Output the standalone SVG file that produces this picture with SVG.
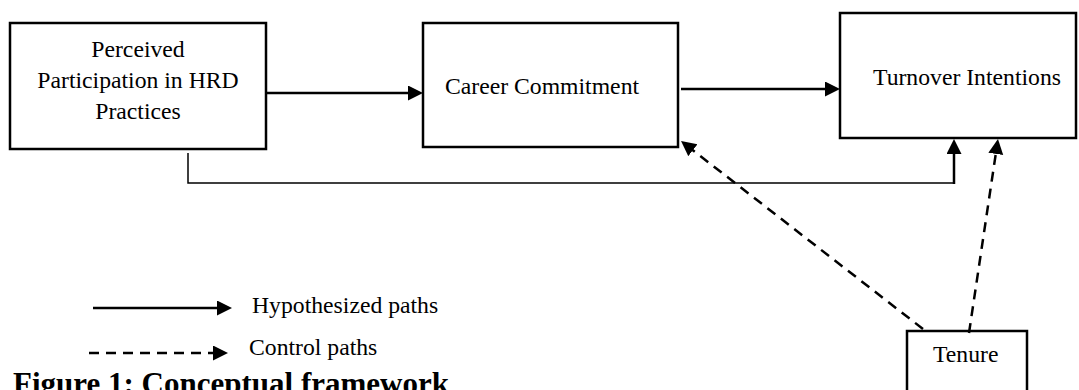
<svg xmlns="http://www.w3.org/2000/svg" width="1079" height="390" viewBox="0 0 1079 390">
<style>
  .box { fill: #fff; stroke: #000; stroke-width: 2.5; }
  .lbl { font-family: "Liberation Serif", "Times New Roman", serif; font-size: 23.7px; fill: #000; }
  .solid { fill: none; stroke: #000; stroke-width: 2.5; }
  .thin { fill: none; stroke: #000; stroke-width: 1.5; }
  .dash { fill: none; stroke: #000; stroke-width: 2.5; stroke-dasharray: 10 7; }
  .caption { font-family: "Liberation Serif", "Times New Roman", serif; font-size: 31px; font-weight: bold; fill: #000; }
</style>
<defs>
  <marker id="ah" markerUnits="userSpaceOnUse" markerWidth="16" markerHeight="16" refX="11" refY="7.5" orient="auto">
    <path d="M0,0 L15,7.5 L0,15 Z" fill="#000"/>
  </marker>
</defs>
<rect width="1079" height="390" fill="#fff"/>

<g id="node-hrd">
  <rect class="box" x="10" y="23" width="256" height="126"/>
  <text class="lbl" x="138" y="57" text-anchor="middle">Perceived</text>
  <text class="lbl" x="138" y="88" text-anchor="middle">Participation in HRD</text>
  <text class="lbl" x="138" y="119" text-anchor="middle">Practices</text>
</g>
<g id="node-career">
  <rect class="box" x="423" y="23" width="255" height="124"/>
  <text class="lbl" x="445" y="94">Career Commitment</text>
</g>
<g id="node-turnover">
  <rect class="box" x="840" y="13" width="236" height="125"/>
  <text class="lbl" x="873" y="85">Turnover Intentions</text>
</g>
<g id="node-tenure">
  <rect class="box" x="907" y="331" width="120" height="75"/>
  <text class="lbl" x="933" y="362">Tenure</text>
</g>

<g id="connectors">
  <line class="solid" x1="266" y1="93" x2="419" y2="93" marker-end="url(#ah)"/>
  <line class="solid" x1="681" y1="89" x2="836" y2="89" marker-end="url(#ah)"/>
  <polyline class="thin" points="188,153 188,183 954,183"/>
  <line class="solid" x1="954" y1="184" x2="954" y2="143" marker-end="url(#ah)"/>
  <line class="dash" x1="923" y1="329" x2="684.2" y2="143.5" marker-end="url(#ah)"/>
  <line class="dash" x1="969" y1="333" x2="997.4" y2="143" marker-end="url(#ah)"/>
</g>

<g id="legend">
  <line class="solid" x1="93" y1="308" x2="228" y2="308" marker-end="url(#ah)"/>
  <text class="lbl" x="252" y="313">Hypothesized paths</text>
  <line class="dash" x1="89" y1="353" x2="224" y2="353" stroke-dasharray="8 8" marker-end="url(#ah)"/>
  <text class="lbl" x="249" y="355">Control paths</text>
</g>

<text class="caption" x="13" y="394">Figure 1: Conceptual framework</text>
</svg>
